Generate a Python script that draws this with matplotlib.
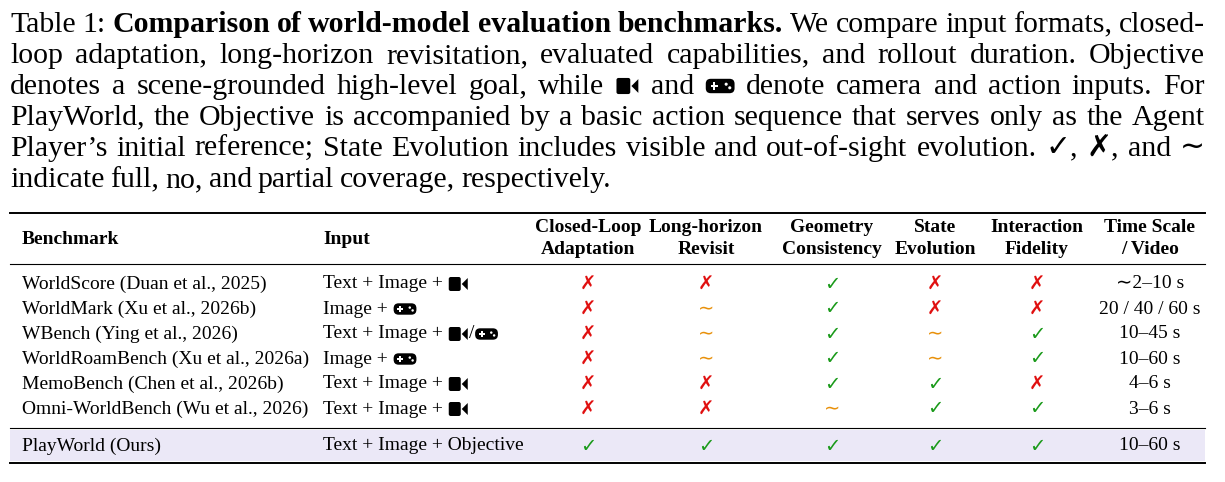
import matplotlib
matplotlib.use("Agg")
import matplotlib.pyplot as plt
from matplotlib.patches import FancyBboxPatch, Polygon, Rectangle, Circle

W, H = 1225, 482
SERIF = ['Liberation Serif', 'DejaVu Sans']

benchmarks = ["WorldScore (Duan et al., 2025)", "WorldMark (Xu et al., 2026b)", "WBench (Ying et al., 2026)",
              "WorldRoamBench (Xu et al., 2026a)", "MemoBench (Chen et al., 2026b)",
              "Omni-WorldBench (Wu et al., 2026)", "PlayWorld (Ours)"]
inputs = ["Text + Image + [CAM]", "Image + [PAD]", "Text + Image + [CAM]/[PAD]", "Image + [PAD]",
          "Text + Image + [CAM]", "Text + Image + [CAM]", "Text + Image + Objective"]
closed_loop = ["x", "x", "x", "x", "x", "x", "v"]
long_horizon = ["x", "~", "~", "~", "x", "x", "v"]
geometry = ["v", "v", "v", "v", "v", "~", "v"]
state_evo = ["x", "x", "~", "~", "v", "v", "v"]
interaction = ["x", "x", "v", "v", "x", "v", "v"]
time_scale = ["∼2–10 s", "20 / 40 / 60 s", "10–45 s", "10–60 s", "4–6 s", "3–6 s", "10–60 s"]
headers = [("Closed-Loop", "Adaptation"), ("Long-horizon", "Revisit"), ("Geometry", "Consistency"),
           ("State", "Evolution"), ("Interaction", "Fidelity"), ("Time Scale", "/ Video")]

fig = plt.figure(figsize=(W / 100, H / 100), dpi=100)
ax = fig.add_axes([0, 0, 1, 1])
ax.set_xlim(0, W); ax.set_ylim(H, 0); ax.axis('off')
renderer = fig.canvas.get_renderer()


def cam(x, yc, s=1.0):
    ax.add_patch(FancyBboxPatch((x, yc - 7 * s), 12 * s, 14 * s, boxstyle="round,pad=0,rounding_size=2",
                                fc='black', ec='none'))
    ax.add_patch(Polygon([(x + 13 * s, yc), (x + 19 * s, yc - 6 * s), (x + 19 * s, yc + 6 * s)],
                         closed=True, fc='black', ec='none'))
    return 20 * s


def pad(x, yc, s=1.0):
    ax.add_patch(FancyBboxPatch((x, yc - 6 * s), 24 * s, 12 * s, boxstyle="round,pad=0,rounding_size=5",
                                fc='black', ec='none'))
    ax.add_patch(Rectangle((x + 4 * s, yc - 1 * s), 6 * s, 2 * s, fc='white', ec='none'))
    ax.add_patch(Rectangle((x + 6 * s, yc - 3 * s), 2 * s, 6 * s, fc='white', ec='none'))
    ax.add_patch(Circle((x + 17 * s, yc - 1.5 * s), 1.3 * s, fc='white', ec='none'))
    ax.add_patch(Circle((x + 20 * s, yc + 1.5 * s), 1.3 * s, fc='white', ec='none'))
    return 25 * s


def width(t):
    return t.get_window_extent(renderer).width

# ---------- caption ----------
CAP_FS = 21.5
lines = [
    [("Table", 'normal'), ("1:", 'normal'), ("Comparison", 'bold'), ("of", 'bold'), ("world-model", 'bold'),
     ("evaluation", 'bold'), ("benchmarks.", 'bold')] +
    [(w, 'normal') for w in "We compare input formats, closed-".split()],
    [(w, 'normal') for w in "loop adaptation, long-horizon revisitation, evaluated capabilities, and rollout duration. Objective".split()],
    [(w, 'normal') for w in "denotes a scene-grounded high-level goal, while [CAM] and [PAD] denote camera and action inputs. For".split()],
    [(w, 'normal') for w in "PlayWorld, the Objective is accompanied by a basic action sequence that serves only as the Agent".split()],
    [(w, 'normal') for w in "Player’s initial reference; State Evolution includes visible and out-of-sight evolution. ✓, ✗, and ∼".split()],
    [(w, 'normal') for w in "indicate full, no, and partial coverage, respectively.".split()],
]
baselines = [32, 63, 94, 125, 156, 187]
L, R = 10, 1205
for li, (words, yb) in enumerate(zip(lines, baselines)):
    items = []
    for w, wt in words:
        if w == '[CAM]':
            items.append(('cam', 24)); continue
        if w == '[PAD]':
            items.append(('pad', 30)); continue
        t = ax.text(0, yb, w, fontsize=CAP_FS, family=SERIF, weight=wt, va='baseline', ha='left')
        items.append((t, width(t)))
    total = sum(w for _, w in items)
    n = len(items) - 1
    gap = max((R - L - total) / n, 3) if li < len(lines) - 1 else 6
    x = L
    for it, w in items:
        if it == 'cam':
            cam(x + 1, yb - 8, 1.15)
        elif it == 'pad':
            pad(x + 1, yb - 8, 1.2)
        else:
            it.set_x(x)
        x += w + gap

# ---------- table ----------
FS = 14
ax.plot([10, 1205], [213, 213], color='black', lw=1.4)
ax.plot([10, 1205], [264, 264], color='black', lw=0.8)
ax.plot([10, 1205], [428, 428], color='black', lw=0.8)
ax.plot([10, 1205], [463, 463], color='black', lw=1.4)
ax.add_patch(Rectangle((10, 430), 1195, 31, fc='#ebe8f7', ec='none', zorder=0))

col_x = [588, 706, 832, 935, 1037, 1150]
ax.text(22, 239, "Benchmark", fontsize=FS, family=SERIF, weight='bold', va='center')
ax.text(323, 239, "Input", fontsize=FS, family=SERIF, weight='bold', va='center')
for cx, (a, b) in zip(col_x, headers):
    ax.text(cx, 228, a, fontsize=FS, family=SERIF, weight='bold', va='center', ha='center')
    ax.text(cx, 250, b, fontsize=FS, family=SERIF, weight='bold', va='center', ha='center')

sym = {"v": ("✓", '#1a9a1a'), "x": ("✗", '#e01010'), "~": ("∼", '#e8900a')}
row_y = [284, 309, 334, 359, 384, 409, 446]
for i, yc in enumerate(row_y):
    ax.text(22, yc, benchmarks[i], fontsize=FS, family=SERIF, va='center')
    x = 323
    parts = inputs[i].replace('[CAM]', '|[CAM]|').replace('[PAD]', '|[PAD]|').split('|')
    for p in parts:
        if p == '[CAM]':
            x += cam(x + 1, yc, 1.0) + 1
        elif p == '[PAD]':
            x += pad(x + 1, yc, 0.95) + 1
        elif p:
            t = ax.text(x, yc, p, fontsize=FS, family=SERIF, va='center')
            x += width(t)
    for cx, col in zip(col_x[:5], [closed_loop, long_horizon, geometry, state_evo, interaction]):
        s, c = sym[col[i]]
        ax.text(cx, yc, s, fontsize=14, family=['DejaVu Sans'], color=c, va='center', ha='center')
    ax.text(col_x[5], yc, time_scale[i], fontsize=FS, family=SERIF, va='center', ha='center')

fig.savefig("out.png", dpi=100)
